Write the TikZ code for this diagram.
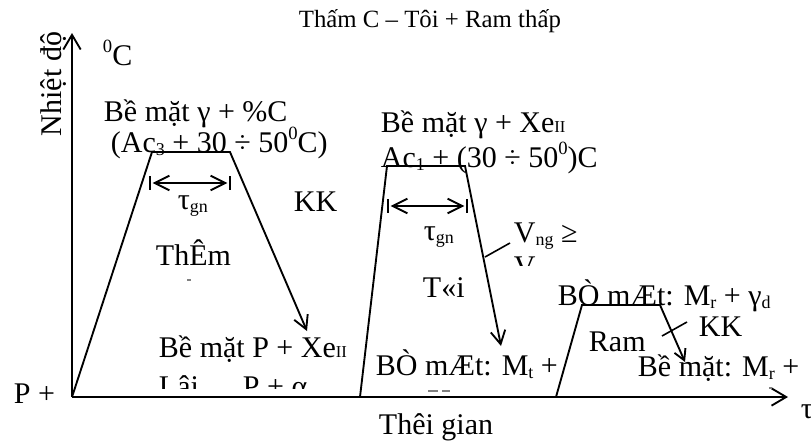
\documentclass[tikz,border=0pt]{standalone}
\usepackage{fontspec}
\setmainfont{Liberation Serif}
\usetikzlibrary{arrows.meta}
\newcommand\sbs[1]{\raisebox{-0.12em}{\fontsize{13.5}{13.5}\selectfont #1}}
\newcommand\sbsII[1]{\raisebox{-0.03em}{\fontsize{12.5}{12.5}\selectfont #1}}
\newcommand\sps[1]{\raisebox{0.42em}{\fontsize{14}{14}\selectfont #1}}
\begin{document}
\begin{tikzpicture}[x=0.75pt,y=-0.75pt,line width=1.4pt,
  txt/.style={anchor=base west,inner sep=0pt,font=\fontsize{22.5}{27}\selectfont},
  ttl/.style={anchor=base west,inner sep=0pt,font=\fontsize{18.6}{22}\selectfont},
  axarrow/.style={-{Straight Barb[length=11pt,width=13pt]}},
  arr/.style={-{Straight Barb[length=10pt,width=11pt]}},
  sarr/.style={-{Straight Barb[length=8pt,width=9pt]}},
  dblarr/.style={{Straight Barb[length=11pt,width=11pt]}-{Straight Barb[length=11pt,width=11pt]}},
  barline/.style={line width=1pt},
  tinymark/.style={line width=0.8pt,gray}]
\useasboundingbox (0,0) rectangle (811,440);

% coordinates
\coordinate (O) at (72,397);
\coordinate (Ytip) at (72,33);
\coordinate (Xtip) at (788,397);
\coordinate (a1) at (152,152);
\coordinate (a2) at (230,152);
\coordinate (a3) at (307,331);
\coordinate (b0) at (360,397);
\coordinate (b1) at (387,166);
\coordinate (b2) at (465,166);
\coordinate (b3) at (501,346);
\coordinate (c0) at (556,397);
\coordinate (c1) at (582,305);
\coordinate (c2) at (660,305);
\coordinate (c3) at (685,362);
\coordinate (d1l) at (150,183);
\coordinate (d1r) at (230,183);
\coordinate (d2l) at (388,206);
\coordinate (d2r) at (467,206);
\coordinate (k2a) at (485,257);
\coordinate (k2b) at (510,243);
\coordinate (k3a) at (662,336);
\coordinate (k3b) at (687,322);

% axes
\draw[axarrow] (O) -- (Ytip);
\draw[axarrow] (O) -- (Xtip);

% carburizing
\draw[arr] (O) -- (a1) -- (a2) -- (a3);
\draw[barline] ([yshift=5pt]d1l) -- ([yshift=-5pt]d1l);
\draw[barline] ([yshift=5pt]d1r) -- ([yshift=-5pt]d1r);
\draw[dblarr] ([xshift=2pt]d1l) -- ([xshift=-2pt]d1r);

% quenching
\draw[arr] (b0) -- (b1) -- (b2) -- (b3);
\draw[barline] ([yshift=5pt]d2l) -- ([yshift=-5pt]d2l);
\draw[barline] ([yshift=5pt]d2r) -- ([yshift=-5pt]d2r);
\draw[dblarr] ([xshift=2pt]d2l) -- ([xshift=-2pt]d2r);
\draw[line width=1.2pt] (k2a) -- (k2b);

% tempering
\draw[sarr] (c0) -- (c1) -- (c2) -- (c3);
\draw[line width=1.2pt] (k3a) -- (k3b);

% texts
\node[ttl] (title) at (298,27) {Thấm C – Tôi + Ram thấp};
\node[txt,rotate=90] (nd) at (61,137) {Nhiệt độ};
\node[txt] (degc) at (102,65) {\sps{0}C};
\node[txt] (s1a) at (103,121) {Bề mặt γ + \%C};
\node[txt] (s1b) at (110,152) {(Ac\sbs{3} + 30 ÷ 50\sps{0}C)};
\node[txt] (tau1) at (177,209) {τ\sbs{gn}};
\node[txt] (kk1) at (293,211) {KK};
\node[txt] (them) at (155,265) {ThÊm};
\draw[tinymark] (187,280) -- (191,280);
\node[txt] (s1c) at (158,357) {Bề mặt P + Xe\sbsII{II}};
\begin{scope}
\clip (150,368) rectangle (350,388);
\node[txt] (lai) at (158,396) {Lâi};
\node[txt] (pa) at (242,396) {P + α};
\end{scope}
\node[txt] (pp) at (13,403) {P +};

\node[txt] (s2a) at (380,132) {Bề mặt γ + Xe\sbsII{II}};
\node[txt] (s2b) at (380,167) {Ac\sbs{1} + (30 ÷ 50\sps{0})C};
\node[txt] (tau2) at (423,240) {τ\sbs{gn}};
\node[txt] (vng) at (513,242) {V\sbs{ng} ≥};
\begin{scope}
\clip (505,248) rectangle (600,265);
\node[txt] (vth) at (513,276) {V\sbs{th}};
\end{scope}
\node[txt] (toi) at (422,297) {T«i};
\node[txt] (s2c) at (375,375) {BÒ mÆt: M\sbs{t} +};
\draw[tinymark] (428,391) -- (438,391);
\draw[tinymark] (442,391) -- (450,391);

\node[txt] (s3a) at (557,305) {BÒ mÆt: M\sbs{r} + γ\sbs{d}};
\node[txt] (kk2) at (698,336) {KK};
\node[txt] (ram) at (588,351) {Ram};
\node[txt] (s3b) at (637,376) {Bề mặt: M\sbs{r} +};
\draw[tinymark] (769,388) -- (772,388);

\node[txt] (tg) at (378,434) {Thêi gian};
\node[txt] (tau) at (800,418) {τ};
\end{tikzpicture}
\end{document}
